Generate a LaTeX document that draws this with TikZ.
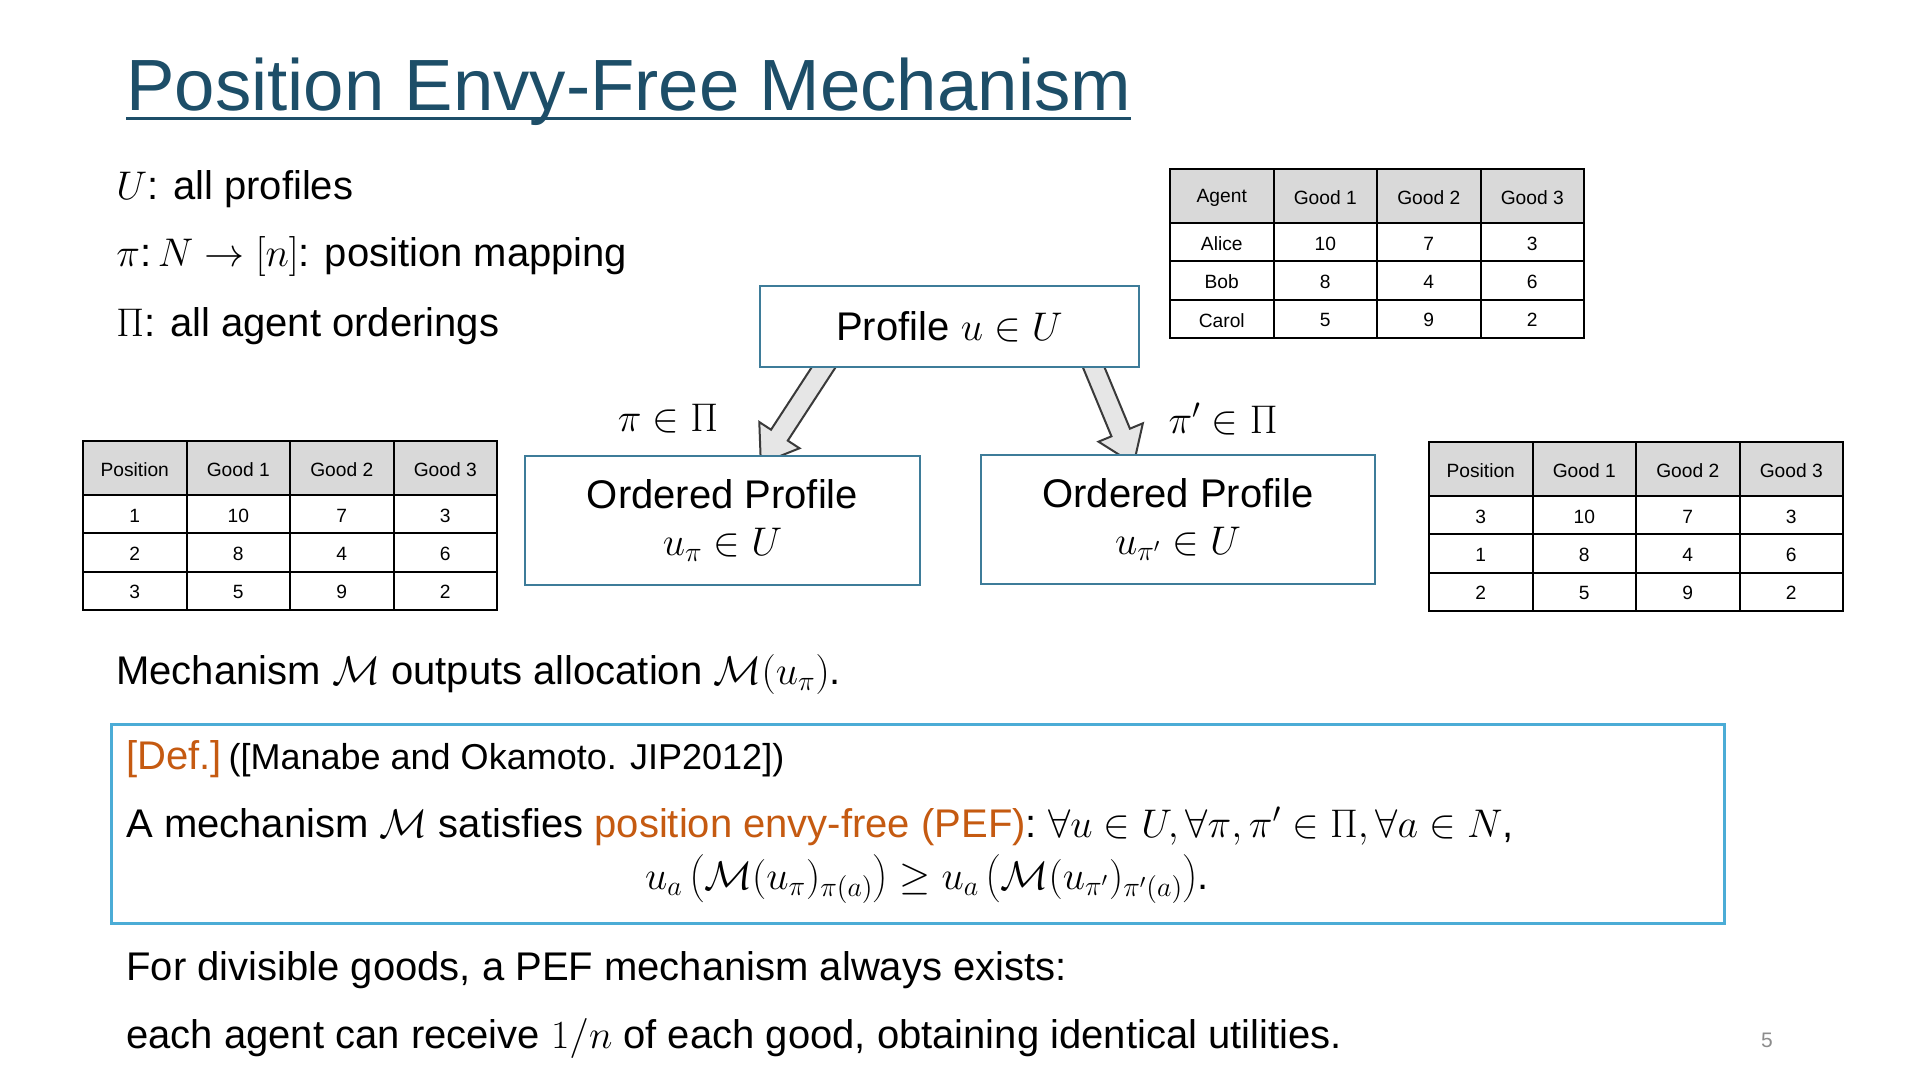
\RequirePackage{fix-cm}
\documentclass[tikz,border=0pt]{standalone}
\usepackage[no-math]{fontspec}
\setmainfont{Liberation Sans}
\definecolor{titleblue}{HTML}{1D4E68}
\definecolor{boxteal}{HTML}{3E7C99}
\definecolor{defblue}{HTML}{4BACD6}
\definecolor{deforange}{HTML}{C55A11}
\definecolor{hdrgray}{HTML}{D9D9D9}
\definecolor{arrowgray}{HTML}{E6E6E6}
\definecolor{arrowdark}{HTML}{3A3A3A}
\definecolor{pagegray}{HTML}{8C8C8C}
\tikzset{
  txt/.style={inner sep=0pt, font=\fontsize{20}{24}\selectfont},
  cell/.style={inner sep=0pt, font=\fontsize{9.6}{11}\selectfont},
  tblline/.style={draw=black, line width=1pt},
  pbox/.style={draw=boxteal, fill=white, line width=1pt, inner sep=0pt,
    font=\fontsize{20}{23.5}\selectfont},
  blockarrow/.style={fill=arrowgray, draw=arrowdark, line width=1pt, line join=miter},
}
% #1 name, #2 x0, #3 y0, #4 rows a/b/c/d
\newcommand{\pefgrid}[4]{%
  \fill[hdrgray] (#2,#3) rectangle ++(414,54);
  \foreach \kk in {1,2,3} \draw[tblline] ({#2+\kk*103.5},#3) -- ++(0,169);
  \foreach \kk in {0,1,2} \draw[tblline] (#2,{#3+54+\kk*38.3}) -- ++(414,0);
  \draw[tblline] (#2,#3) rectangle ++(414,169);
  \foreach \pa/\pb/\pc/\pd [count=\rr] in {#4} {
    \pgfmathsetmacro\yy{\rr==1 ? #3+29 : #3+55.5+(\rr-1.5)*38.3}
    \node[cell] (#1-\rr-1) at ({#2+51.75},\yy) {\pa};
    \node[cell] (#1-\rr-2) at ({#2+155.25},\yy) {\pb};
    \node[cell] (#1-\rr-3) at ({#2+258.75},\yy) {\pc};
    \node[cell] (#1-\rr-4) at ({#2+362.25},\yy) {\pd};
  }
}
\begin{document}
\begin{tikzpicture}[x=0.5pt,y=-0.5pt]
\useasboundingbox (0,0) rectangle (1920,1080);
\fill[white] (0,0) rectangle (1920,1080);

% title
\node[inner sep=0pt, font=\fontsize{36.3}{40}\selectfont, text=titleblue, anchor=base west] (title) at (126,111) {Position Envy-Free Mechanism};
\draw[titleblue, line width=1.5pt] ([yshift=-4pt]title.base west) -- ([yshift=-4pt]title.base east);

% left definitions
\node[txt, anchor=base west] (defU) at (116,200) {$U$: all profiles};
\node[txt, anchor=base west] (defpi) at (116,267) {$\pi$:\,$N\rightarrow[n]$: position mapping};
\node[txt, anchor=base west] (defPi) at (116,336) {$\Pi$: all agent orderings};

% tables
\pefgrid{ttop}{1170}{169}{Agent/Good 1/Good 2/Good 3, Alice/10/7/3, Bob/8/4/6, Carol/5/9/2}
\pefgrid{tleft}{83}{441}{Position/Good 1/Good 2/Good 3, 1/10/7/3, 2/8/4/6, 3/5/9/2}
\pefgrid{tright}{1429}{442}{Position/Good 1/Good 2/Good 3, 3/10/7/3, 1/8/4/6, 2/5/9/2}

% block arrows
\begin{scope}[shift={(831,356)}, rotate=236.9]
  \draw[blockarrow] (0,-10) -- (94.5,-10) -- (94.5,-24) -- (128.5,0) -- (94.5,24) -- (94.5,10) -- (0,10) -- cycle;
\end{scope}
\begin{scope}[shift={(1089,356)}, rotate=-67.5]
  \draw[blockarrow] (0,-10) -- (82.8,-10) -- (82.8,-24) -- (116.8,0) -- (82.8,24) -- (82.8,10) -- (0,10) -- cycle;
\end{scope}

% boxes
\node[pbox, minimum width=189.5pt, minimum height=40.5pt] (prof) at (949.5,326.5) {Profile $u\in U$};
\node[pbox, minimum width=197.5pt, minimum height=64.5pt, align=center] (ordl) at (722.5,520.5) {Ordered Profile\\ $u_{\pi}\in U$};
\node[pbox, minimum width=197pt, minimum height=64.5pt, align=center] (ordr) at (1178,519.5) {Ordered Profile\\ $u_{\pi'}\in U$};

% arrow labels
\node[txt] (lblL) at (668,419) {$\pi\in\Pi$};
\node[txt] (lblR) at (1223,419) {$\pi'\in\Pi$};

% mechanism line
\node[txt, anchor=base west] (mech) at (116,684) {Mechanism $\mathcal{M}$ outputs allocation $\mathcal{M}(u_{\pi})$.};

% definition box
\node[draw=defblue, line width=1.5pt, minimum width=806.5pt, minimum height=99.5pt, inner sep=0pt] (defbox) at (917.5,823.5) {};
\node[txt, anchor=base west] (deflabel) at (126,769) {{\color{deforange}[Def.]}\,{\fontsize{18}{22}\selectfont ([Manabe and Okamoto. JIP2012])}};
\node[txt, anchor=base west] (defline) at (126,837) {A mechanism $\mathcal{M}$ satisfies {\color{deforange}position envy-free (PEF)}: $\forall u\in U, \forall \pi,\pi'\in\Pi, \forall a\in N$,};
\node[txt, anchor=base] (formula) at (927,889) {$u_a\left(\mathcal{M}(u_{\pi})_{\pi(a)}\right)\geq u_a\left(\mathcal{M}(u_{\pi'})_{\pi'(a)}\right)$.};

% bottom lines
\node[txt, anchor=base west] (div1) at (126,980) {For divisible goods, a PEF mechanism always exists:};
\node[txt, anchor=base west] (div2) at (126,1048) {each agent can receive $1/n$ of each good, obtaining identical utilities.};
\node[inner sep=0pt, anchor=base, text=pagegray, font=\fontsize{10.5}{12}\selectfont] (page) at (1767,1047) {5};
\end{tikzpicture}
\end{document}
